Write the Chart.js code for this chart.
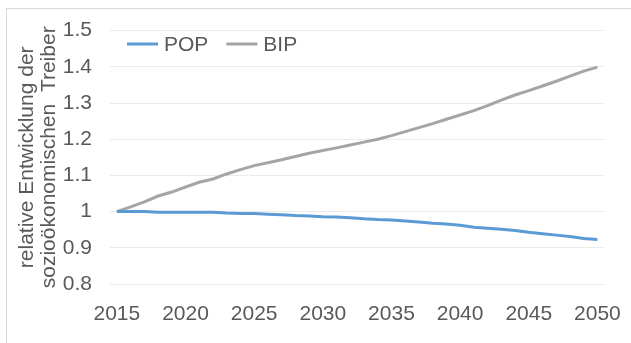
<!DOCTYPE html>
<html>
<head>
<meta charset="utf-8">
<script src="https://cdn.jsdelivr.net/npm/chart.js@4/dist/chart.umd.min.js"></script>
<style>
  html, body { margin: 0; padding: 0; background: #fff; }
  #wrap { position: relative; width: 631px; height: 343px; overflow: hidden; }
  #frame { position: absolute; left: 6px; top: 8px; width: 700px; height: 400px; border: 1px solid #d9d9d9; }
  canvas { position: absolute; left: 0; top: 0; }
</style>
</head>
<body>
<div id="wrap">
  <div id="frame"></div>
  <canvas id="chart" width="631" height="343"></canvas>
</div>
<script>
// Jahre 2015..2050
const years = [
  2015, 2016, 2017, 2018, 2019, 2020, 2021, 2022, 2023, 2024, 2025, 2026,
  2027, 2028, 2029, 2030, 2031, 2032, 2033, 2034, 2035, 2036, 2037, 2038,
  2039, 2040, 2041, 2042, 2043, 2044, 2045, 2046, 2047, 2048, 2049, 2050
];

// Bevölkerung (relativ zu 2015)
const pop = [
  1.000, 1.000, 1.000, 0.998, 0.998, 0.998, 0.998, 0.998, 0.996, 0.995, 0.995, 0.993,
  0.991, 0.989, 0.988, 0.986, 0.985, 0.983, 0.980, 0.978, 0.977, 0.974, 0.971, 0.968,
  0.966, 0.962, 0.957, 0.954, 0.951, 0.948, 0.943, 0.939, 0.935, 0.931, 0.926, 0.923
];

// Bruttoinlandsprodukt (relativ zu 2015)
const bip = [
  1.000, 1.013, 1.027, 1.043, 1.054, 1.068, 1.081, 1.090, 1.104, 1.116, 1.127, 1.135,
  1.143, 1.152, 1.161, 1.169, 1.176, 1.184, 1.192, 1.200, 1.210, 1.221, 1.232, 1.243,
  1.255, 1.267, 1.279, 1.293, 1.308, 1.322, 1.334, 1.347, 1.360, 1.374, 1.388, 1.399
];

const yTitle = ['relative Entwicklung der', 'sozioökonomischen  Treiber'];

Chart.defaults.font.family = '"Liberation Sans", Arial, sans-serif';
Chart.defaults.color = '#595959';

// Legende oben links im Diagrammbereich
const insideLegend = {
  id: 'insideLegend',
  afterDraw(chart) {
    const ctx = chart.ctx;
    let x = 127;
    const y = 44;
    ctx.save();
    ctx.font = '21px "Liberation Sans", Arial, sans-serif';
    ctx.textBaseline = 'middle';
    ctx.fillStyle = '#595959';
    chart.data.datasets.forEach(ds => {
      ctx.strokeStyle = ds.borderColor;
      ctx.lineWidth = ds.borderWidth;
      ctx.beginPath();
      ctx.moveTo(x, y);
      ctx.lineTo(x + 31, y);
      ctx.stroke();
      ctx.fillText(ds.label, x + 37, y + 1);
      x += 37 + ctx.measureText(ds.label).width + 18;
    });
    ctx.restore();
  }
};

new Chart(document.getElementById('chart'), {
  type: 'line',
  data: {
    labels: years,
    datasets: [
      { label: 'POP', data: pop, borderColor: '#5b9bd5', borderWidth: 3, pointRadius: 0, tension: 0 },
      { label: 'BIP', data: bip, borderColor: '#a5a5a5', borderWidth: 3, pointRadius: 0, tension: 0 }
    ]
  },
  options: {
    responsive: false,
    animation: false,
    layout: { padding: { top: 25, right: 17, left: 0, bottom: 0 } },
    plugins: { legend: { display: false }, tooltip: { enabled: false } },
    scales: {
      x: {
        offset: true,
        grid: { display: false },
        border: { display: false },
        ticks: {
          autoSkip: false,
          maxRotation: 0,
          padding: 10,
          font: { size: 21 },
          callback: function (v) {
            const yr = years[v];
            return (yr - 2015) % 5 === 0 ? String(yr) : null;
          }
        },
        afterFit: s => { s.height = 59; }
      },
      y: {
        min: 0.8,
        max: 1.5,
        grid: { color: '#ebebeb', drawTicks: false },
        border: { display: false },
        ticks: {
          stepSize: 0.1,
          padding: 18,
          font: { size: 21 },
          callback: v => String(+v.toFixed(1))
        },
        title: {
          display: true,
          text: yTitle,
          font: { size: 21, lineHeight: 1.05 },
          padding: { top: 16, bottom: 0 }
        },
        afterFit: s => { s.width = 110; }
      }
    }
  },
  plugins: [insideLegend]
});
</script>
</body>
</html>
